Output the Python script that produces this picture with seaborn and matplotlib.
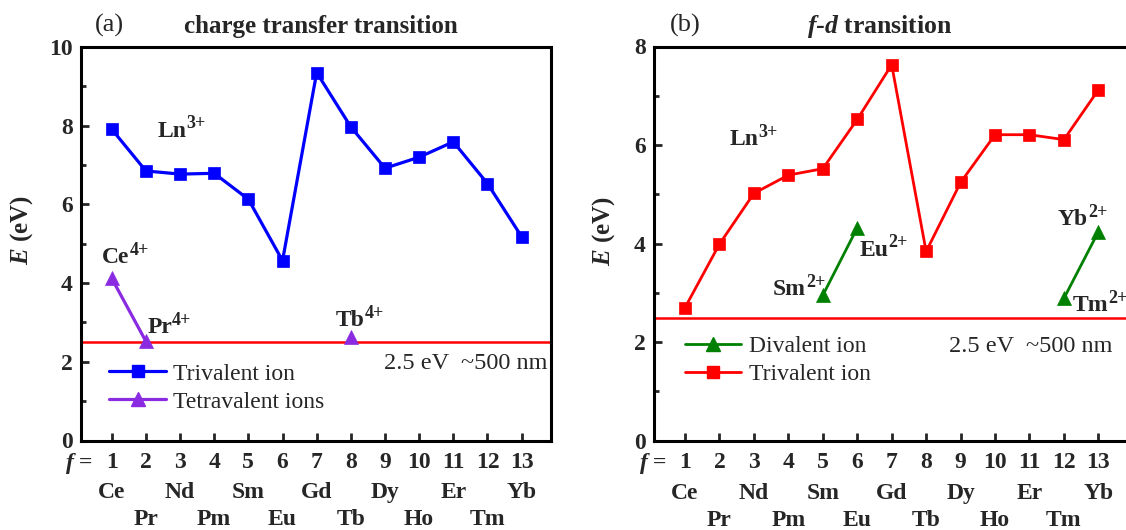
import numpy as np
import pandas as pd
import matplotlib
matplotlib.use("Agg")
import matplotlib.pyplot as plt
from matplotlib.lines import Line2D
import seaborn as sns

# number of 4f electrons and the lanthanide at each position
f_num = list(range(1, 14))
elements = ["Ce", "Pr", "Nd", "Pm", "Sm", "Eu", "Gd", "Tb", "Dy", "Ho", "Er", "Tm", "Yb"]

# (a) charge transfer energies (eV)
ct_trivalent = [7.91, 6.85, 6.77, 6.79, 6.13, 4.57, 9.35, 7.97, 6.92, 7.20, 7.59, 6.53, 5.18]
ct_tetra_f = [1, 2, 8]
ct_tetra_E = [4.12, 2.52, 2.62]
ct_tetra_seg = [0, 0, 1]

# (b) f-d transition energies (eV)
fd_trivalent = [2.70, 3.99, 5.02, 5.39, 5.52, 6.52, 7.63, 3.84, 5.24, 6.21, 6.21, 6.11, 7.12]
fd_div_f = [5, 6, 12, 13]
fd_div_E = [2.95, 4.32, 2.89, 4.24]
fd_div_seg = [0, 0, 1, 1]

threshold = 2.5

sns.set_theme(style="white")
plt.rcParams["font.family"] = ["Liberation Serif", "DejaVu Serif"]
plt.rcParams["mathtext.fontset"] = "custom"
plt.rcParams["mathtext.rm"] = "Liberation Serif:bold"
plt.rcParams["mathtext.bf"] = "Liberation Serif:bold"
plt.rcParams["mathtext.it"] = "Liberation Serif:italic:bold"

W, H = 1126, 530
fig = plt.figure(figsize=(W / 100, H / 100), dpi=100)


def px_axes(left, right, top, bottom):
    return fig.add_axes([left / W, 1 - bottom / H, (right - left) / W, (bottom - top) / H])


ax1 = px_axes(81, 551, 47, 440.5)
ax2 = px_axes(654, 1128, 46.5, 440.7)

BLUE = "#0000ff"
RED = "#ff0000"
PURPLE = "#8a2be2"
GREEN = "#008000"

BASE = 17
SUP = 13


def ion_label(ax, x, y, base, charge):
    """Bold ion symbol with its charge as a raised, smaller label."""
    t = ax.text(x, y, base, fontsize=BASE, fontweight="bold", va="center", ha="left")
    ax.annotate(charge, xy=(1.0, 0.45), xycoords=t, fontsize=SUP, fontweight="bold",
                ha="left", va="bottom", annotation_clip=False)
    return t


# ---------- (a) charge transfer ----------
df_ct = pd.DataFrame({"f": f_num, "E": ct_trivalent})
sns.lineplot(data=df_ct, x="f", y="E", ax=ax1, color=BLUE, lw=2.3, marker="s",
             markersize=8.5, markeredgecolor=BLUE, markeredgewidth=0.5)
df_t4 = pd.DataFrame({"f": ct_tetra_f, "E": ct_tetra_E, "seg": ct_tetra_seg})
sns.lineplot(data=df_t4, x="f", y="E", units="seg", estimator=None, ax=ax1,
             color=PURPLE, lw=2.3, marker="^", markersize=10.5,
             markeredgecolor=PURPLE, markeredgewidth=0.5)
ax1.axhline(threshold, color=RED, lw=1.8, zorder=1)

ax1.set_xlim(0.1, 13.86)
ax1.set_ylim(0, 10)
ax1.set_yticks([0, 2, 4, 6, 8, 10])
ax1.set_yticks([1, 3, 5, 7, 9], minor=True)

ion_label(ax1, 2.34, 7.86, "Ln", "3+")
ion_label(ax1, 0.72, 4.64, "Ce", "4+")
ion_label(ax1, 2.04, 2.86, "Pr", "4+")
ion_label(ax1, 7.57, 3.04, "Tb", "4+")
ax1.text(8.96, 1.95, "2.5 eV  ~500 nm", fontsize=17.5, va="center", ha="left")

h_tri = Line2D([], [], color=BLUE, lw=2.3, marker="s", markersize=8.5)
h_tet = Line2D([], [], color=PURPLE, lw=2.3, marker="^", markersize=10.5)
ax1.legend([h_tri, h_tet], ["Trivalent ion", "Tetravalent ions"], loc="upper left",
           bbox_to_anchor=(0.06, 0.197), frameon=False, fontsize=BASE, borderpad=0,
           borderaxespad=0, handlelength=2.4, handletextpad=0.3, labelspacing=0.28)

# ---------- (b) f-d transition ----------
df_fd = pd.DataFrame({"f": f_num, "E": fd_trivalent})
sns.lineplot(data=df_fd, x="f", y="E", ax=ax2, color=RED, lw=2.0, marker="s",
             markersize=8.5, markeredgecolor=RED, markeredgewidth=0.5)
df_d2 = pd.DataFrame({"f": fd_div_f, "E": fd_div_E, "seg": fd_div_seg})
sns.lineplot(data=df_d2, x="f", y="E", units="seg", estimator=None, ax=ax2,
             color=GREEN, lw=2.0, marker="^", markersize=10.5,
             markeredgecolor=GREEN, markeredgewidth=0.5)
ax2.axhline(threshold, color=RED, lw=1.8, zorder=1)

ax2.set_xlim(0.1, 13.86)
ax2.set_ylim(0, 8)
ax2.set_yticks([0, 2, 4, 6, 8])
ax2.set_yticks([1, 3, 5, 7], minor=True)

ion_label(ax2, 2.29, 6.11, "Ln", "3+")
ion_label(ax2, 6.06, 3.87, "Eu", "2+")
ion_label(ax2, 3.55, 3.06, "Sm", "2+")
ion_label(ax2, 11.82, 4.48, "Yb", "2+")
ion_label(ax2, 12.26, 2.74, "Tm", "2+")
ax2.text(8.66, 1.91, "2.5 eV  ~500 nm", fontsize=17.5, va="center", ha="left")

h_div = Line2D([], [], color=GREEN, lw=2.0, marker="^", markersize=10.5)
h_tri2 = Line2D([], [], color=RED, lw=2.0, marker="s", markersize=8.5)
ax2.legend([h_div, h_tri2], ["Divalent ion", "Trivalent ion"], loc="upper left",
           bbox_to_anchor=(0.065, 0.267), frameon=False, fontsize=BASE, borderpad=0,
           borderaxespad=0, handlelength=2.4, handletextpad=0.3, labelspacing=0.28)

# ---------- shared axis styling ----------
for ax in (ax1, ax2):
    for s in ax.spines.values():
        s.set_color("black")
        s.set_linewidth(2.2)
        s.set_visible(True)
    ax.set_xticks(f_num)
    ax.set_xticklabels([str(v) for v in f_num])
    ax.tick_params(axis="x", which="major", direction="in", length=6, width=2,
                   labelsize=17, pad=8, bottom=True, top=False)
    ax.tick_params(axis="y", which="major", direction="in", length=6, width=2,
                   labelsize=17, pad=6, left=True, right=False)
    ax.tick_params(axis="y", which="minor", direction="in", length=3.5, width=2,
                   left=True, right=False)
    for lab in ax.get_xticklabels() + ax.get_yticklabels():
        lab.set_fontweight("bold")
    ax.set_xlabel("")
    ax.set_ylabel("$E$ (eV)", fontsize=18, fontweight="bold")
    tx = ax.get_xaxis_transform()
    ax.text(0.46, -0.058, "$f$ =", transform=tx, fontsize=17, fontweight="bold",
            ha="right", va="center")
    for i, name in enumerate(elements):
        yy = -0.133 if i % 2 == 0 else -0.202
        ax.text(f_num[i], yy, name, transform=tx, fontsize=17, fontweight="bold",
                ha="center", va="center")
    ax.grid(False)

ax1.yaxis.set_label_coords(-0.098, 0.535)
ax2.yaxis.set_label_coords(-0.078, 0.533)

# panel tags and headings
fig.text(95 / W, 1 - 25 / H, "(a)", fontsize=19, ha="left", va="center")
fig.text(321 / W, 1 - 26 / H, "charge transfer transition", fontsize=18,
         fontweight="bold", ha="center", va="center")
fig.text(670 / W, 1 - 25 / H, "(b)", fontsize=19, ha="left", va="center")
fig.text(880 / W, 1 - 26 / H, "$f$-$d$ transition", fontsize=18.5,
         fontweight="bold", ha="center", va="center")

fig.savefig("out.png", dpi=100)
